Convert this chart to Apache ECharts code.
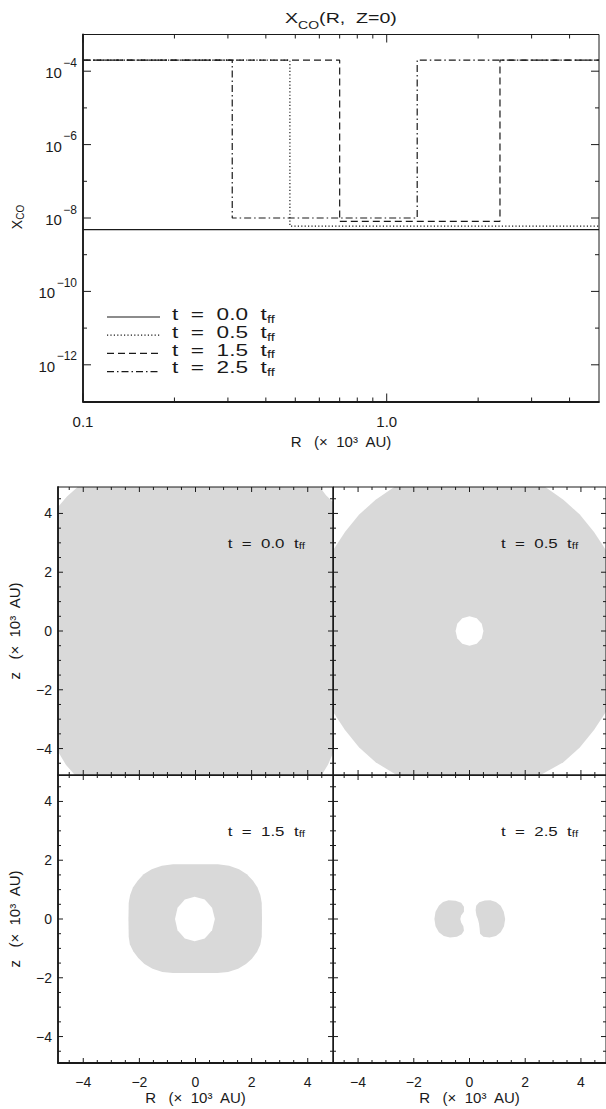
<!DOCTYPE html>
<html>
<head>
<meta charset="utf-8">
<script src="https://cdn.jsdelivr.net/npm/echarts@6.0.0/dist/echarts.min.js"></script>
<style>
html,body{margin:0;padding:0;background:#ffffff;overflow:hidden;}
#chart{width:606px;height:1109px;}
</style>
</head>
<body>
<div id="chart"></div>
<script>
// ===== Top panel: X_CO(R, Z=0) step profiles (R in 10^3 AU) =====
const timeLabels = ['0.0', '0.5', '1.5', '2.5'];
const R_t00 = [0.1, 5.0];
const X_t00 = [4.8e-9, 4.8e-9];
const R_t05 = [0.1, 0.48, 5.0];
const X_t05 = [2.0e-4, 6.0e-9, 6.0e-9];
const R_t15 = [0.1, 0.70, 2.36, 5.0];
const X_t15 = [2.0e-4, 8.1e-9, 2.0e-4, 2.0e-4];
const R_t25 = [0.1, 0.31, 1.26, 5.0];
const X_t25 = [2.0e-4, 1.0e-8, 2.0e-4, 2.0e-4];

const xTickMajor = [0.1, 1.0];
const xTickText = ['0.1', '1.0'];
const xTickMinor = [0.2, 0.3, 0.4, 0.5, 0.6, 0.7, 0.8, 0.9, 2, 3, 4];
const yTickMajor = [1e-12, 1e-10, 1e-8, 1e-6, 1e-4];
const yTickExp = ['−12', '−10', '−8', '−6', '−4'];
const yTickMinor = [1e-11, 1e-9, 1e-7, 1e-5];

// ===== Bottom panels: depleted (grey) regions, points (R, z) in 10^3 AU =====
const map_t00 = [[-4.2,4.9],[4.43,4.9],[4.65,4.62],[4.9,4.39],[4.9,-4.16],[4.72,-4.55],[4.5,-4.9],
  [-4.3,-4.9],[-4.62,-4.55],[-4.9,-4.1],[-4.9,4.22],[-4.58,4.58]];
const map_t05 = [[-2.7,4.9],[2.72,4.9],[3.37,4.47],[3.96,3.96],[4.47,3.37],[4.9,2.75],[4.9,-2.75],
  [4.47,-3.37],[3.96,-3.96],[3.37,-4.47],[2.55,-4.9],[-2.62,-4.9],[-3.37,-4.47],[-3.96,-3.96],
  [-4.47,-3.37],[-4.9,-2.75],[-4.9,2.75],[-4.47,3.37],[-3.96,3.96],[-3.37,4.47]];
const hole_t05 = [[0,0.5],[0.26,0.43],[0.44,0.25],[0.5,0],[0.44,-0.25],[0.26,-0.43],[0,-0.5],
  [-0.26,-0.43],[-0.44,-0.25],[-0.5,0],[-0.44,0.25],[-0.26,0.43]];
const map_t15 = [[0,1.86],[0.8,1.86],[1.2,1.81],[1.55,1.69],[1.83,1.52],[2.05,1.3],[2.21,1.07],[2.31,0.82],
  [2.36,0.55],[2.37,0],[2.36,-0.6],[2.31,-0.88],[2.19,-1.12],[2.01,-1.35],[1.8,-1.53],[1.52,-1.69],
  [1.16,-1.8],[0.78,-1.84],[0,-1.84],[-0.8,-1.84],[-1.18,-1.8],[-1.53,-1.69],[-1.82,-1.53],[-2.04,-1.33],
  [-2.22,-1.1],[-2.34,-0.86],[-2.38,-0.6],[-2.39,0],[-2.38,0.55],[-2.33,0.82],[-2.23,1.07],[-2.06,1.3],
  [-1.85,1.52],[-1.56,1.69],[-1.2,1.81],[-0.8,1.86]];
const hole_t15 = [[-0.03,0.76],[0.33,0.66],[0.59,0.38],[0.69,0],[0.59,-0.38],[0.33,-0.66],[-0.03,-0.76],
  [-0.38,-0.66],[-0.64,-0.38],[-0.73,0],[-0.64,0.38],[-0.38,0.66]];
const patchL_t25 = [[-0.75,0.64],[-0.5,0.62],[-0.3,0.55],[-0.2,0.42],[-0.2,0.25],[-0.3,0.12],[-0.33,0],
  [-0.3,-0.12],[-0.22,-0.25],[-0.2,-0.4],[-0.28,-0.52],[-0.45,-0.6],[-0.7,-0.63],[-0.92,-0.58],
  [-1.1,-0.45],[-1.22,-0.25],[-1.26,0],[-1.22,0.25],[-1.1,0.45],[-0.95,0.58]];
const patchR_t25 = [[0.75,0.64],[0.95,0.58],[1.12,0.45],[1.23,0.25],[1.28,0],[1.24,-0.25],[1.12,-0.45],
  [0.95,-0.58],[0.72,-0.63],[0.5,-0.6],[0.38,-0.5],[0.36,-0.3],[0.34,-0.15],[0.3,0],[0.25,0.12],
  [0.22,0.3],[0.24,0.45],[0.35,0.57],[0.55,0.63]];

const mapRange = [-4.9, 4.9];
const mapTickMajor = [-4, -2, 0, 2, 4];
const mapTickText = ['−4', '−2', '0', '2', '4'];
const mapTickMinor = [-4.5,-3.5,-3,-2.5,-1.5,-1,-0.5,0.5,1,1.5,2.5,3,3.5,4.5];
const tagAnchor = [3.9, 3.0];

// ===== Styling / layout =====
const FONT = '"Liberation Sans", Arial, Helvetica, sans-serif';
const INK = '#1a1a1a';
const GREY = '#d9d9d9';
const dashes = [null, [1.2, 2.2], [7, 4], [7, 3, 1.5, 3]];

const measureCtx = document.createElement('canvas').getContext('2d');
function textW(str, size) {
  measureCtx.font = size + 'px "Liberation Sans", Arial, sans-serif';
  return measureCtx.measureText(str).width;
}
// a run of text pieces (base + sub/superscripts) laid out left to right
function rowWidth(parts, scale) { return parts.reduce((s, pt) => s + textW(pt.t, pt.size) * scale, 0); }
function rowEls(parts, xStart, yMid, scale) {
  const els = [];
  let x = xStart;
  parts.forEach(pt => {
    els.push({type: 'text', x: x, y: yMid + (pt.dy || 0), scaleX: scale,
      style: {text: pt.t, fontSize: pt.size, fontFamily: FONT, fill: INK, align: 'left', verticalAlign: 'middle'}});
    x += textW(pt.t, pt.size) * scale;
  });
  return els;
}

const chart = echarts.init(document.getElementById('chart'), null, {renderer: 'svg', width: 606, height: 1109});

function pickLabel(vals, texts, v, isLog) {
  const i = vals.findIndex(t => isLog ? Math.abs(Math.log10(t) - Math.log10(v)) < 1e-6 : Math.abs(t - v) < 1e-9);
  return i >= 0 ? texts[i] : '';
}

function tickSeries(gi, xMaj, xMin, yMaj, yMin, xRef, yRef, lMaj, lMin) {
  const data = [];
  xMaj.forEach(v => data.push([v, yRef, 1, 0]));
  xMin.forEach(v => data.push([v, yRef, 0, 0]));
  yMaj.forEach(v => data.push([xRef, v, 1, 1]));
  yMin.forEach(v => data.push([xRef, v, 0, 1]));
  return {
    type: 'custom', xAxisIndex: gi, yAxisIndex: gi, data: data, z: 6, silent: true, animation: false,
    renderItem: function (params, api) {
      const cs = params.coordSys;
      const p = api.coord([api.value(0), api.value(1)]);
      const L = api.value(2) ? lMaj : lMin;
      const st = {stroke: INK, lineWidth: 1};
      if (api.value(3) === 0) {
        return {type: 'group', children: [
          {type: 'line', shape: {x1: p[0], y1: cs.y + cs.height, x2: p[0], y2: cs.y + cs.height - L}, style: st},
          {type: 'line', shape: {x1: p[0], y1: cs.y, x2: p[0], y2: cs.y + L}, style: st}
        ]};
      }
      return {type: 'group', children: [
        {type: 'line', shape: {x1: cs.x, y1: p[1], x2: cs.x + L, y2: p[1]}, style: st},
        {type: 'line', shape: {x1: cs.x + cs.width, y1: p[1], x2: cs.x + cs.width - L, y2: p[1]}, style: st}
      ]};
    }
  };
}

const series = [];
// top profiles
const profiles = [[R_t00, X_t00], [R_t05, X_t05], [R_t15, X_t15], [R_t25, X_t25]];
profiles.forEach((p, i) => series.push({
  type: 'line', name: timeLabels[i], xAxisIndex: 0, yAxisIndex: 0,
  data: p[0].map((r, k) => [r, p[1][k]]), step: 'end', symbol: 'none', silent: true, animation: false,
  lineStyle: {color: INK, width: 1.2, type: dashes[i] || 'solid'}, z: 2
}));
series.push(tickSeries(0, xTickMajor, xTickMinor, yTickMajor, yTickMinor, 1, 1e-8, 8, 4));
// y tick labels "10" with raised exponent
series.push({
  type: 'custom', xAxisIndex: 0, yAxisIndex: 0, silent: true, animation: false, z: 7,
  data: yTickMajor.map((v, i) => [1, v, i]),
  renderItem: function (params, api) {
    const cs = params.coordSys;
    const p = api.coord([api.value(0), api.value(1)]);
    const exp = yTickExp[api.value(2)];
    const xr = cs.x - 6;
    const ew = textW(exp, 12);
    return {type: 'group', children: [
      {type: 'text', x: xr - ew - 1.5, y: p[1] + 1.5,
        style: {text: '10', fontSize: 15, fontFamily: FONT, fill: INK, align: 'right', verticalAlign: 'middle'}},
      {type: 'text', x: xr, y: p[1] - 8.5,
        style: {text: exp, fontSize: 12, fontFamily: FONT, fill: INK, align: 'right', verticalAlign: 'middle'}}
    ]};
  }
});

// map panels
const panels = [
  {grid: 1, shapes: [{pts: map_t00, fill: GREY}]},
  {grid: 2, shapes: [{pts: map_t05, fill: GREY}, {pts: hole_t05, fill: '#ffffff'}]},
  {grid: 3, shapes: [{pts: map_t15, fill: GREY}, {pts: hole_t15, fill: '#ffffff'}]},
  {grid: 4, shapes: [{pts: patchL_t25, fill: GREY}, {pts: patchR_t25, fill: GREY}]}
];
panels.forEach((pn, k) => {
  series.push({
    type: 'custom', xAxisIndex: pn.grid, yAxisIndex: pn.grid, silent: true, animation: false, z: 1,
    data: pn.shapes.map((s, i) => [0, 0, i]),
    renderItem: function (params, api) {
      const sh = pn.shapes[params.dataIndex];
      return {type: 'polygon', shape: {points: sh.pts.map(pt => api.coord(pt))}, style: {fill: sh.fill, stroke: null}};
    }
  });
  series.push({
    type: 'custom', xAxisIndex: pn.grid, yAxisIndex: pn.grid, silent: true, animation: false, z: 7,
    data: [[tagAnchor[0], tagAnchor[1]]],
    renderItem: function (params, api) {
      const p = api.coord([api.value(0), api.value(1)]);
      const parts = [{t: 't  =  ' + timeLabels[k] + '  t', size: 13}, {t: 'ff', size: 9, dy: 3.5}];
      const w = rowWidth(parts, 1.3);
      return {type: 'group', children: rowEls(parts, p[0] - w, p[1], 1.3)};
    }
  });
  series.push(tickSeries(pn.grid, mapTickMajor, mapTickMinor, mapTickMajor, mapTickMinor, 0, 0, 5, 3));
});

// grids
const gridBase = {show: true, borderColor: INK, borderWidth: 1, z: 4, backgroundColor: 'transparent'};
const grids = [
  Object.assign({left: 83, top: 34.5, width: 516, height: 367}, gridBase),
  Object.assign({left: 58, top: 487, width: 275, height: 288}, gridBase),
  Object.assign({left: 333, top: 487, width: 275, height: 288}, gridBase),
  Object.assign({left: 58, top: 775, width: 275, height: 288}, gridBase),
  Object.assign({left: 333, top: 775, width: 275, height: 288}, gridBase)
];

const axisNameStyle = {fontSize: 15, fontFamily: FONT, color: INK};
const xAxes = [{
  type: 'log', logBase: 10, gridIndex: 0, min: 0.1, max: 5, z: 5,
  axisLine: {show: true, onZero: false, lineStyle: {color: INK, width: 1.8}},
  axisTick: {show: false}, splitLine: {show: false}, minorTick: {show: false},
  axisLabel: {customValues: xTickMajor, formatter: v => pickLabel(xTickMajor, xTickText, v, true),
    fontSize: 15, fontFamily: FONT, color: INK, margin: 12},
  name: 'R   (×  10³  AU)', nameLocation: 'middle', nameGap: 32, nameTextStyle: axisNameStyle
}];
const yAxes = [{
  type: 'log', logBase: 10, gridIndex: 0, min: 1e-13, max: 1e-3, z: 5,
  axisLine: {show: true, onZero: false, lineStyle: {color: INK, width: 1.8}},
  axisTick: {show: false}, splitLine: {show: false}, minorTick: {show: false},
  axisLabel: {show: false}
}];
panels.forEach((pn, k) => {
  const bottomRow = k >= 2, leftCol = (k % 2 === 0);
  xAxes.push({
    type: 'value', gridIndex: pn.grid, min: mapRange[0], max: mapRange[1], z: 5,
    axisLine: {show: true, onZero: false, lineStyle: {color: INK, width: bottomRow ? 1.8 : 1}},
    axisTick: {show: false}, splitLine: {show: false},
    axisLabel: {show: bottomRow, customValues: mapTickMajor, formatter: v => pickLabel(mapTickMajor, mapTickText, v, false),
      fontSize: 14, fontFamily: FONT, color: INK, margin: 12},
    name: bottomRow ? 'R   (×  10³  AU)' : '', nameLocation: 'middle', nameGap: 27, nameTextStyle: axisNameStyle
  });
  yAxes.push({
    type: 'value', gridIndex: pn.grid, min: mapRange[0], max: mapRange[1], z: 5,
    axisLine: {show: true, onZero: false, lineStyle: {color: INK, width: leftCol ? 1.8 : 1}},
    axisTick: {show: false}, splitLine: {show: false},
    axisLabel: {show: leftCol, customValues: mapTickMajor, formatter: v => pickLabel(mapTickMajor, mapTickText, v, false),
      fontSize: 14, fontFamily: FONT, color: INK, margin: 6},
    name: leftCol ? 'z   (×  10³  AU)' : '', nameLocation: 'middle', nameRotate: 90, nameGap: 36,
    nameTextStyle: axisNameStyle
  });
});

// legend (drawn), title, y-axis name of the top panel
const legendEls = [];
timeLabels.forEach((t, i) => {
  const yT = 314 + i * 17.8;
  const yL = 317 + i * 18.2;
  legendEls.push({type: 'line', shape: {x1: 107, y1: yL, x2: 160, y2: yL},
    style: {stroke: INK, lineWidth: 1.2, lineDash: dashes[i]}});
  rowEls([{t: 't  =  ' + t + '  t', size: 17}, {t: 'ff', size: 11, dy: 5}], 172, yT, 1.33)
    .forEach(e => legendEls.push(e));
});
const titleParts = [{t: 'X', size: 14}, {t: 'CO', size: 10, dy: 7}, {t: '(R,  Z=0)', size: 14}];
const titleEls = rowEls(titleParts, 341 - rowWidth(titleParts, 1.4) / 2, 18.5, 1.4);
const yNameParts = [{t: 'X', size: 14}, {t: 'CO', size: 10, dy: 3.5}];
const yNameEls = rowEls(yNameParts, -rowWidth(yNameParts, 1) / 2, 0, 1);

const option = {
  animation: false,
  backgroundColor: '#ffffff',
  grid: grids,
  xAxis: xAxes,
  yAxis: yAxes,
  series: series,
  graphic: [
    {type: 'group', z: 10, children: titleEls},
    {type: 'group', z: 10, children: legendEls},
    {type: 'group', z: 10, x: 16.5, y: 217, rotation: Math.PI / 2, children: yNameEls}
  ]
};
chart.setOption(option);
</script>
</body>
</html>
